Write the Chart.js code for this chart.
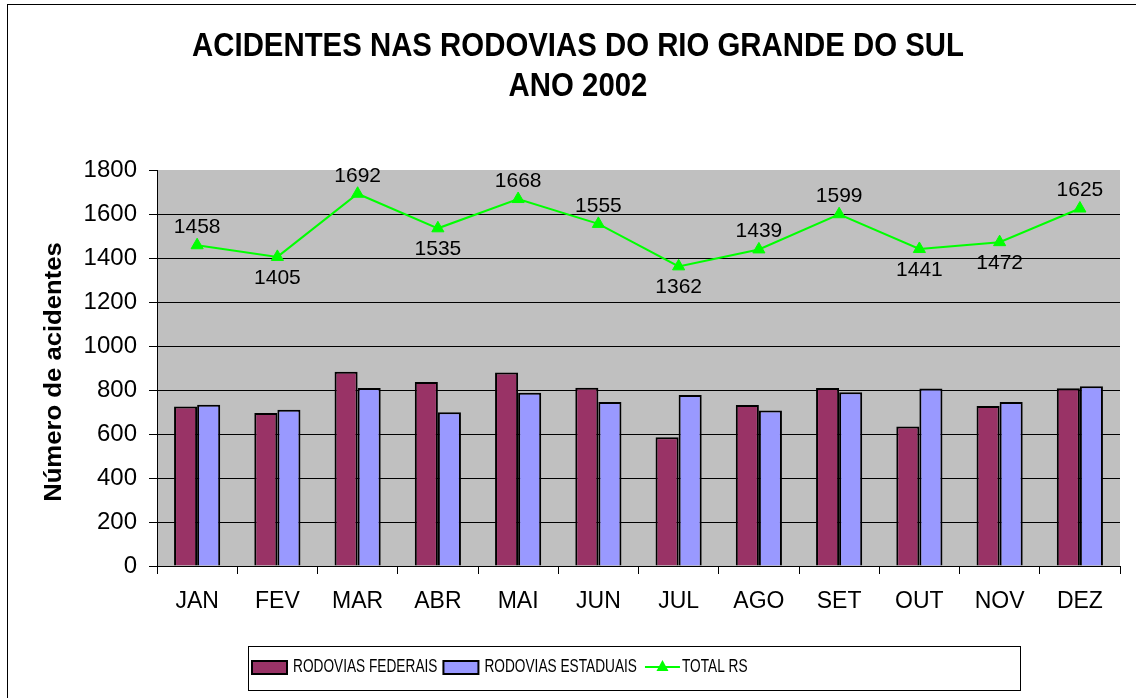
<!DOCTYPE html>
<html>
<head>
<meta charset="utf-8">
<script src="https://cdn.jsdelivr.net/npm/chart.js@4/dist/chart.umd.min.js"></script>
<style>
  html, body { margin: 0; padding: 0; background: #fff; }
  #wrap { width: 1136px; height: 698px; position: relative; }
</style>
</head>
<body>
<div id="wrap"><canvas id="acidentes"></canvas></div>
<script>
const meses = ['JAN', 'FEV', 'MAR', 'ABR', 'MAI', 'JUN', 'JUL', 'AGO', 'SET', 'OUT', 'NOV', 'DEZ'];
const federais = [725, 695, 883, 836, 880, 810, 585, 732, 809, 634, 727, 808];
const estaduais = [733, 710, 809, 699, 788, 745, 777, 707, 790, 807, 745, 817];
const totalRS = [1458, 1405, 1692, 1535, 1668, 1555, 1362, 1439, 1599, 1441, 1472, 1625];
const yTicks = [0, 200, 400, 600, 800, 1000, 1200, 1400, 1600, 1800];

const titulo = ['ACIDENTES NAS RODOVIAS DO RIO GRANDE DO SUL', 'ANO 2002'];
const tituloY = 'Número de acidentes';
// onde fica o rótulo de cada ponto do total (acima / abaixo)
const rotuloAbaixo = [false, true, false, true, false, false, true, false, false, true, true, false];

const FONTE = '"Liberation Sans", Arial, sans-serif';

// texto com escala horizontal (as fontes da figura são um pouco estreitas)
function texto(ctx, str, x, y, font, sx, align) {
  ctx.save();
  ctx.font = font;
  ctx.textBaseline = 'middle';
  ctx.textAlign = align || 'center';
  ctx.translate(x, y);
  ctx.scale(sx, 1);
  ctx.fillText(str, 0, 0);
  ctx.restore();
}

const decoracao = {
  id: 'decoracao',
  beforeDraw(chart) {
    const ctx = chart.ctx;
    const a = chart.chartArea;
    ctx.save();
    ctx.fillStyle = '#fff';
    ctx.fillRect(0, 0, chart.width, chart.height);
    ctx.fillStyle = '#C0C0C0';
    ctx.fillRect(a.left, a.top, a.right - a.left, a.bottom - a.top);
    // moldura externa
    ctx.strokeStyle = '#000';
    ctx.lineWidth = 1;
    ctx.strokeRect(7.5, 4.5, chart.width + 20, chart.height + 20);
    ctx.restore();
  },
  afterDraw(chart) {
    const ctx = chart.ctx;
    ctx.save();
    ctx.fillStyle = '#000';
    // titulo
    texto(ctx, titulo[0], 578, 47, 'bold 33px ' + FONTE, 0.89);
    texto(ctx, titulo[1], 578, 87, 'bold 33px ' + FONTE, 0.89);
    // titulo do eixo y
    ctx.save();
    ctx.translate(54, 372);
    ctx.rotate(-Math.PI / 2);
    texto(ctx, tituloY, 0, 0, 'bold 24px ' + FONTE, 1.07);
    ctx.restore();

    // rotulos do total
    const meta = chart.getDatasetMeta(2);
    meta.data.forEach((p, i) => {
      const dy = rotuloAbaixo[i] ? 21 : -18;
      texto(ctx, String(totalRS[i]), p.x, p.y + dy, '21px ' + FONTE, 1, 'center');
    });

    // legenda
    const ds = chart.data.datasets;
    const fonteLeg = '18px ' + FONTE;
    const sx = 0.76;
    const top = 646, bot = 690, cy = 667;
    let x = 252;
    ctx.font = fonteLeg;
    ds.forEach((d) => {
      if (d.type === 'line') {
        ctx.strokeStyle = d.borderColor;
        ctx.lineWidth = 2;
        ctx.beginPath();
        ctx.moveTo(x + 2, cy);
        ctx.lineTo(x + 37, cy);
        ctx.stroke();
        ctx.fillStyle = d.backgroundColor;
        ctx.beginPath();
        ctx.moveTo(x + 19.5, cy - 7);
        ctx.lineTo(x + 25.5, cy + 4);
        ctx.lineTo(x + 13.5, cy + 4);
        ctx.closePath();
        ctx.fill();
        x += 39;
      } else {
        ctx.fillStyle = d.backgroundColor;
        ctx.fillRect(x, cy - 6, 35, 13);
        ctx.strokeStyle = '#000';
        ctx.lineWidth = 2;
        ctx.strokeRect(x, cy - 6, 35, 13);
        x += 41;
      }
      ctx.fillStyle = '#000';
      texto(ctx, d.label, x, cy, fonteLeg, sx, 'left');
      ctx.font = fonteLeg;
      x += ctx.measureText(d.label).width * sx + 6;
    });
    ctx.strokeStyle = '#000';
    ctx.lineWidth = 1;
    ctx.strokeRect(248.5, top + 0.5, 772, bot - top);
    ctx.restore();
  }
};

const ctx = document.getElementById('acidentes');
new Chart(ctx, {
  data: {
    labels: meses,
    datasets: [
      {
        type: 'bar',
        label: 'RODOVIAS FEDERAIS',
        data: federais,
        backgroundColor: '#993366',
        borderColor: '#000',
        borderWidth: 2,
        categoryPercentage: 0.575,
        barPercentage: 1,
        order: 2
      },
      {
        type: 'bar',
        label: 'RODOVIAS ESTADUAIS',
        data: estaduais,
        backgroundColor: '#9999FF',
        borderColor: '#000',
        borderWidth: 2,
        categoryPercentage: 0.575,
        barPercentage: 1,
        order: 2
      },
      {
        type: 'line',
        label: 'TOTAL RS',
        data: totalRS,
        borderColor: '#00FF00',
        backgroundColor: '#00FF00',
        borderWidth: 2,
        pointStyle: 'triangle',
        pointRadius: 7,
        pointBorderWidth: 1,
        tension: 0,
        order: 0
      }
    ]
  },
  options: {
    responsive: true,
    maintainAspectRatio: false,
    animation: false,
    layout: { padding: { left: 0, top: 170, right: 16, bottom: 0 } },
    plugins: {
      legend: { display: false },
      title: { display: false },
      tooltip: { enabled: false }
    },
    scales: {
      x: {
        afterFit: (s) => { s.height = 132; },
        grid: {
          offset: true,
          drawOnChartArea: false,
          drawTicks: true,
          tickLength: 8,
          tickColor: '#000'
        },
        border: { display: true, color: '#000', width: 1 },
        ticks: { color: '#000', padding: 14, font: { family: FONTE, size: 23 } }
      },
      y: {
        min: 0,
        max: 1800,
        afterFit: (s) => { s.width = 157; },
        afterBuildTicks: (s) => { s.ticks = yTicks.map(v => ({ value: v })); },
        grid: {
          color: (c) => (c.tick && c.tick.value === 1800 ? 'rgba(0,0,0,0)' : '#000'),
          tickColor: '#000',
          tickLength: 8,
          lineWidth: 1
        },
        border: { display: true, color: '#000', width: 1 },
        ticks: {
          color: '#000',
          padding: 12,
          font: { family: FONTE, size: 24 },
          callback: (v) => String(v)
        }
      }
    }
  },
  plugins: [decoracao]
});
</script>
</body>
</html>
